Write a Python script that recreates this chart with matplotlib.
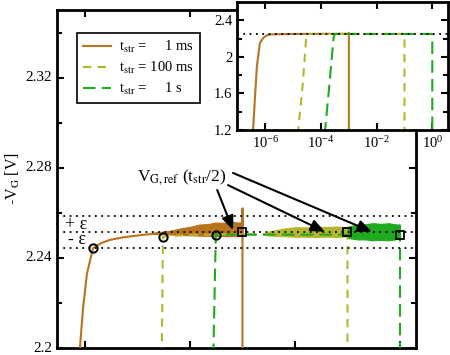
import numpy as np
import matplotlib
matplotlib.use("Agg")
import matplotlib.pyplot as plt
from matplotlib.ticker import FixedLocator, NullFormatter, FuncFormatter, LogFormatterMathtext, NullLocator

plt.rcParams['font.family'] = ['Liberation Serif', 'DejaVu Serif']
plt.rcParams['mathtext.fontset'] = 'stix'

# ---- data ----
v_ref = 2.2515
eps = 0.007

# t_str = 1 ms
t_1ms = [3.5e-7, 4.9e-7, 6.3e-7, 8.0e-7, 9.2e-7, 1.09e-6, 1.42e-6, 2e-6, 3e-6, 5e-6,
         8.2e-6, 1.5e-5, 3.06e-5, 8.8e-5, 3e-4, 9.9e-4, 1e-3, 1e-3]
v_1ms = [1.15, 1.89, 2.15, 2.200, 2.218, 2.233, 2.2443, 2.2465, 2.248, 2.249,
         2.2497, 2.2504, 2.2510, 2.2515, 2.2517, 2.2517, 2.262, 1.0]

# t_str = 100 ms
t_100ms = [1.45e-5, 2.2e-5, 2.9e-5, 3.06e-5, 1e-4, 1e-3, 0.099, 0.1, 0.1]
v_100ms = [1.15, 1.7, 2.2, 2.2494, 2.2502, 2.2505, 2.2505, 2.2517, 1.0]

# t_str = 1 s
t_1s = [1.35e-4, 2e-4, 2.8e-4, 3.1e-4, 1e-3, 0.1, 0.99, 1.0, 1.0]
v_1s = [1.15, 1.7, 2.2, 2.2503, 2.2503, 2.2503, 2.2503, 2.2503, 1.0]

# noise envelopes (upper / lower) of the measured signals
band_1ms_t = [2e-5, 4e-5, 7e-5, 1e-4, 1.5e-4, 2.2e-4, 3e-4, 4.5e-4, 6e-4, 8e-4, 1e-3]
band_1ms_hi = [2.2512, 2.2520, 2.2532, 2.2538, 2.2548, 2.2550, 2.2557, 2.2556, 2.2561, 2.2557, 2.2558]
band_1ms_lo = [2.2506, 2.2504, 2.2502, 2.2500, 2.2499, 2.2498, 2.2497, 2.2497, 2.2496, 2.2497, 2.2498]

band_100ms_t = [3e-3, 6e-3, 1e-2, 1.5e-2, 2.5e-2, 4e-2, 6e-2, 0.1]
band_100ms_hi = [2.2516, 2.2530, 2.2536, 2.2535, 2.2539, 2.2537, 2.2539, 2.2536]
band_100ms_lo = [2.2500, 2.2496, 2.2494, 2.2494, 2.2493, 2.2494, 2.2493, 2.2495]

band_1s_t = [0.1, 0.15, 0.22, 0.3, 0.45, 0.6, 0.8, 1.0]
band_1s_hi = [2.2538, 2.2547, 2.2549, 2.2554, 2.2551, 2.2554, 2.2549, 2.2548]
band_1s_lo = [2.2489, 2.2482, 2.2482, 2.2478, 2.2480, 2.2478, 2.2482, 2.2486]

# settling points (circles) and reference points (squares)
circ_t = [1.42e-6, 3.06e-5, 3.1e-4]
circ_v = [2.2445, 2.2494, 2.2503]
sq_t = [1e-3, 0.1, 1.0]
sq_v = [2.2517, 2.2515, 2.2503]

labels = ['t$_{\\rm str}$ =     1 ms', 't$_{\\rm str}$ = 100 ms', 't$_{\\rm str}$ =     1 s']
colors = ['#b8731f', '#b5b52c', '#1faa1f']
styles = ['-', (0, (4, 3)), (0, (6, 3))]

fig = plt.figure(figsize=(4.5, 3.55), dpi=100)
ax = fig.add_axes([0.1267, 0.0197, 0.7978, 0.952])

curves = [(t_1ms, v_1ms), (t_100ms, v_100ms), (t_1s, v_1s)]
bands = [(band_1ms_t, band_1ms_hi, band_1ms_lo),
         (band_100ms_t, band_100ms_hi, band_100ms_lo),
         (band_1s_t, band_1s_hi, band_1s_lo)]

for (t, v), (bt, bh, bl), c, ls, lab in zip(curves, bands, colors, styles, labels):
    ax.fill_between(bt, bl, bh, color=c, lw=0.8, edgecolor=c, zorder=2)
    ax.plot(t, v, color=c, ls=ls, lw=1.5, label=lab, zorder=3)

for yy in [v_ref + eps, v_ref, v_ref - eps]:
    ax.axhline(yy, color='black', ls=(0, (1, 2.5)), lw=1.3, zorder=4)

ax.plot(circ_t, circ_v, 'o', ms=6, mfc='none', mec='black', mew=1.4, zorder=5)
ax.plot(sq_t, sq_v, 's', ms=5.5, mfc='none', mec='black', mew=1.3, zorder=5)

ax.text(4.2e-7, v_ref + eps / 2, '+ ε', fontsize=13, ha='left', va='center')
ax.text(4.8e-7, v_ref - eps / 2, '- ε', fontsize=13, ha='left', va='center')

ax.text(9.8e-6, 2.2759, 'V$_{\\rm G,ref}$ (t$_{\\rm str}$/2)', fontsize=12.5, ha='left', va='center')
arrow_kw = dict(arrowstyle='-|>,head_length=0.7,head_width=0.3', color='black', lw=1.5,
                shrinkA=0, shrinkB=0, mutation_scale=12)
ax.annotate('', xy=(6.6e-4, 2.2524), xytext=(3.3e-4, 2.2701), arrowprops=arrow_kw)
ax.annotate('', xy=(0.037, 2.2516), xytext=(5.3e-4, 2.2723), arrowprops=arrow_kw)
ax.annotate('', xy=(0.29, 2.2516), xytext=(6.6e-4, 2.2777), arrowprops=arrow_kw)

ax.set_xscale('log')
ax.set_xlim(2.93e-7, 2.02)
ax.set_ylim(2.2, 2.35)
ax.xaxis.set_major_locator(FixedLocator([1e-6, 1e-4, 1e-2, 1e0]))
ax.xaxis.set_minor_locator(NullLocator())
ax.xaxis.set_major_formatter(NullFormatter())
ax.yaxis.set_major_locator(FixedLocator([2.2, 2.24, 2.28, 2.32]))
ax.yaxis.set_minor_locator(FixedLocator([2.22, 2.26, 2.30, 2.34]))
ax.yaxis.set_major_formatter(FuncFormatter(lambda v, p: '%g' % round(v, 2)))
ax.tick_params(which='both', direction='in', top=True, right=True, labelsize=11)
ax.tick_params(which='major', length=5, width=1.5)
ax.tick_params(which='minor', length=3.5, width=1.5)
for lbl in ax.get_yticklabels():
    lbl.set_verticalalignment('center')
for s in ax.spines.values():
    s.set_linewidth(2)
ax.set_ylabel('-V$_{\\rm G}$ [V]', fontsize=11.5)
ax.yaxis.set_label_coords(-0.098, 0.5)

leg = ax.legend(loc='upper left', bbox_to_anchor=(0.056, 0.932), borderaxespad=0,
                fontsize=10.5, handlelength=1.9, labelspacing=0.35, fancybox=False,
                edgecolor='black', framealpha=1, borderpad=0.4, handletextpad=0.6)
leg.get_frame().set_linewidth(1.2)

# inset
axi = fig.add_axes([0.5267, 0.6338, 0.469, 0.3606], zorder=10)
axi.set_facecolor('white')
for (t, v), c, ls in zip(curves, colors, styles):
    axi.plot(t, v, color=c, ls=ls, lw=1.5)
axi.axhline(v_ref, color='black', ls=(0, (1, 2.5)), lw=1.3)
axi.set_xscale('log')
axi.set_xlim(9.5e-8, 3.7)
axi.set_ylim(1.2, 2.6)
axi.xaxis.set_major_locator(FixedLocator([1e-6, 1e-4, 1e-2, 1e0]))
axi.xaxis.set_minor_locator(NullLocator())
axi.xaxis.set_major_formatter(LogFormatterMathtext())
axi.yaxis.set_major_locator(FixedLocator([1.2, 1.6, 2.0, 2.4]))
axi.yaxis.set_minor_locator(FixedLocator([1.4, 1.8, 2.2]))
axi.yaxis.set_major_formatter(FuncFormatter(lambda v, p: '%g' % round(v, 1)))
axi.tick_params(which='both', direction='in', top=True, right=True, labelsize=10.5)
axi.tick_params(which='major', length=5, width=1.5)
axi.tick_params(which='minor', length=3.5, width=1.5)
for s in axi.spines.values():
    s.set_linewidth(2)

fig.savefig('out.png', dpi=100)
